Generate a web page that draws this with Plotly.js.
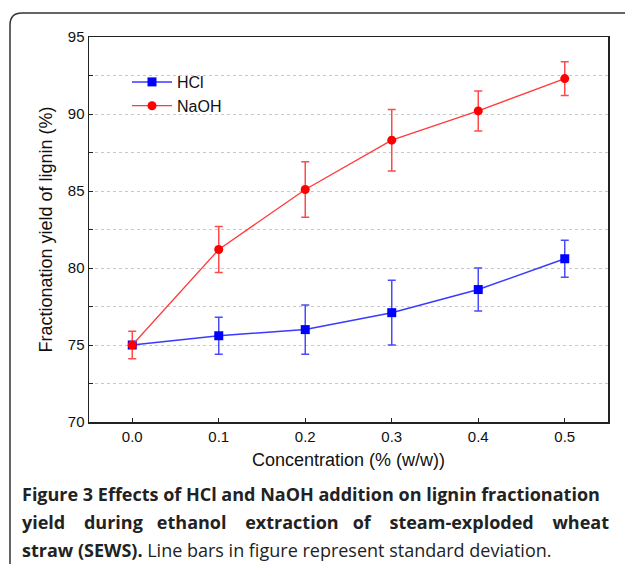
<!DOCTYPE html>
<html>
<head>
<meta charset="utf-8">
<script src="https://cdn.plot.ly/plotly-3.0.1.min.js"></script>
<style>html,body{margin:0;padding:0;background:#fff;}#chart{width:625px;height:564px;}</style>
</head>
<body>
<div id="chart"></div>
<script>
// Data
const concentration = [0.0, 0.1, 0.2, 0.3, 0.4, 0.5];
const hclYield = [75.0, 75.6, 76.0, 77.1, 78.6, 80.6];
const hclSD = [0.0, 1.2, 1.6, 2.1, 1.4, 1.2];
const naohYield = [75.0, 81.2, 85.1, 88.3, 90.2, 92.3];
const naohSD = [0.9, 1.5, 1.8, 2.0, 1.3, 1.1];
const xTickVals = [0.0, 0.1, 0.2, 0.3, 0.4, 0.5];
const xTickText = ["0.0", "0.1", "0.2", "0.3", "0.4", "0.5"];
const yTickVals = [70, 75, 80, 85, 90, 95];

const sans = "Liberation Sans, Arial, sans-serif";
const axisFont = {family: sans, size: 15, color: "#111"};
const capFont = "Open Sans, sans-serif";

const traces = [
  {
    x: concentration, y: hclYield, name: "HCl", type: "scatter", mode: "lines+markers",
    line: {color: "#3a3aff", width: 1.5},
    marker: {symbol: "square", size: 9, color: "#0000ff"},
    error_y: {type: "data", array: hclSD, visible: true, color: "#4a4aff", thickness: 1.5, width: 4}
  },
  {
    x: concentration, y: naohYield, name: "NaOH", type: "scatter", mode: "lines+markers",
    line: {color: "#ff3a3a", width: 1.3},
    marker: {symbol: "circle", size: 9, color: "#ff0000"},
    error_y: {type: "data", array: naohSD, visible: true, color: "#ff4a4a", thickness: 1.5, width: 4}
  }
];

const L = 89, R = 608, T = 37, B = 422;
const W = R - L, H = B - T;
const px = v => (v - L) / W;
const py = v => (B - v) / H;

const fx = px(10), fy = py(13);
const rx = 12 / W, ry = 12 / H;
const sp3 = "&nbsp;&nbsp;&nbsp;";
const sp4 = "&nbsp;&nbsp;&nbsp;&nbsp;";

const layout = {
  width: 625, height: 564,
  margin: {l: L, r: 625 - R, t: T, b: 564 - B},
  paper_bgcolor: "#fff", plot_bgcolor: "#fff",
  showlegend: true,
  legend: {x: px(127), y: py(65), xanchor: "left", yanchor: "top", bgcolor: "rgba(0,0,0,0)",
    font: {family: sans, size: 16, color: "#111"}, tracegroupgap: 0, itemwidth: 40},
  xaxis: {
    range: [-0.05, 0.55], tickvals: xTickVals, ticktext: xTickText,
    ticks: "inside", ticklen: 4, tickcolor: "#222",
    showline: true, linecolor: "#222", linewidth: 1.5, mirror: true,
    showgrid: false, zeroline: false, tickfont: axisFont,
    title: {text: "Concentration (% (w/w))", font: {family: sans, size: 18, color: "#111"}, standoff: 10}
  },
  yaxis: {
    range: [70, 95], tickvals: yTickVals,
    ticks: "inside", ticklen: 4, tickcolor: "#222",
    showline: true, linecolor: "#222", linewidth: 1.5, mirror: true,
    showgrid: true, gridcolor: "#c8c8c8", griddash: "dot", gridwidth: 1,
    zeroline: false, tickfont: axisFont,
    minor: {dtick: 2.5, ticks: "inside", ticklen: 4, tickcolor: "#222", showgrid: true, gridcolor: "#c8c8c8", griddash: "dot", gridwidth: 1},
    title: {text: "Fractionation yield of lignin (%)", font: {family: sans, size: 18, color: "#111"}, standoff: 10}
  },
  shapes: [
    {type: "path", xref: "paper", yref: "paper",
     path: `M ${fx},${py(600)} L ${fx},${fy - ry} Q ${fx},${fy} ${fx + rx},${fy} L ${px(640)},${fy}`,
     line: {color: "#333", width: 1.5}}
  ],
  annotations: [
    {xref: "paper", yref: "paper", x: px(20), y: py(494), xanchor: "left", yanchor: "middle", showarrow: false,
     text: "<b>Figure 3 Effects of HCl and NaOH addition on lignin fractionation</b>",
     font: {family: capFont, size: 18, color: "#222"}},
    {xref: "paper", yref: "paper", x: px(20), y: py(522), xanchor: "left", yanchor: "middle", showarrow: false,
     text: "<b>yield" + sp4 + "during" + sp3 + "ethanol" + sp4 + "extraction" + sp3 + "of" + sp4 + "steam-exploded" + sp4 + "wheat</b>",
     font: {family: capFont, size: 18, color: "#222"}},
    {xref: "paper", yref: "paper", x: px(20), y: py(550), xanchor: "left", yanchor: "middle", showarrow: false,
     text: "<b>straw (SEWS).</b> Line bars in figure represent standard deviation.",
     font: {family: capFont, size: 18, color: "#222"}}
  ]
};

Plotly.newPlot("chart", traces, layout, {displayModeBar: false, staticPlot: true});
</script>
</body>
</html>
